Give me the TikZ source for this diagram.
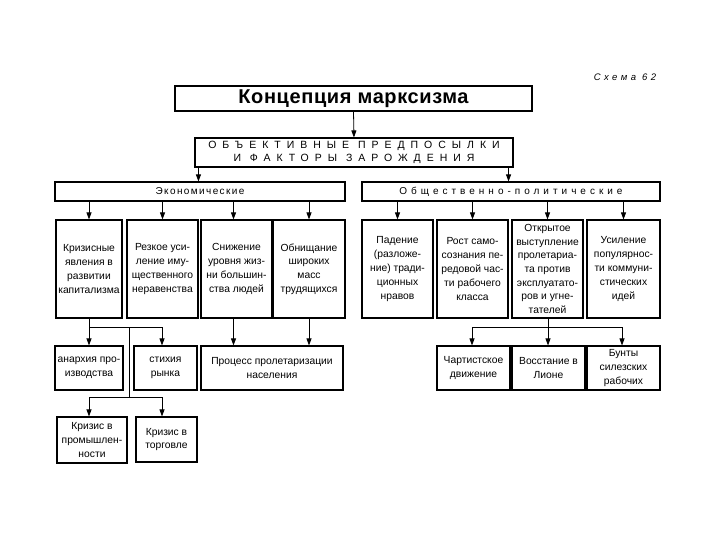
\documentclass[tikz,border=0pt]{standalone}
\usepackage{fontspec}
\setmainfont{Liberation Sans}
\usetikzlibrary{arrows.meta,calc}
\begin{document}
\begin{tikzpicture}[x=1pt,y=-1pt,
  box/.style={draw, line width=1.1pt, inner sep=1pt, align=center,
    font=\fontsize{10.3}{13.8}\selectfont},
  arr/.style={line width=0.8pt, -{Triangle[length=7pt,width=5pt]}},
  ln/.style={line width=0.8pt}]
\useasboundingbox[fill=white] (0,0) rectangle (720,540);

\node[font=\fontsize{9.5}{10}\itshape\addfontfeature{LetterSpace=36}] (schema) at (625,77) {Схема 62};

\node[box, line width=1.3pt, minimum width=357, minimum height=25,
  font=\fontsize{20}{22}\bfseries\selectfont\addfontfeature{LetterSpace=3}] (T) at (353.5,98.5) {Концепция марксизма};
\node[box, minimum width=318, minimum height=29,
  font=\fontsize{10.5}{13}\selectfont\addfontfeature{LetterSpace=57}] (O) at (354,152.5)
  {ОБЪЕКТИВНЫЕ ПРЕДПОСЫЛКИ\\И ФАКТОРЫ ЗАРОЖДЕНИЯ};
\node[box, minimum width=290, minimum height=19,
  font=\fontsize{10}{12}\selectfont\addfontfeature{LetterSpace=14}] (Ec) at (200,191.5) {Экономические};
\node[box, minimum width=298, minimum height=19,
  font=\fontsize{10}{12}\selectfont\addfontfeature{LetterSpace=40}] (Po) at (511,191.5) {Общественно-политические};

\node[box, minimum width=66, minimum height=98] (e1) at (89,269) {Кризисные\\явления в\\развитии\\капитализма};
\node[box, minimum width=71, minimum height=98] (e2) at (162.5,269) {Резкое уси-\\ление иму-\\щественного\\неравенства};
\node[box, minimum width=71, minimum height=98] (e3) at (236.5,269) {Снижение\\уровня жиз-\\ни большин-\\ства людей};
\node[box, minimum width=72, minimum height=98] (e4) at (309,269) {Обнищание\\широких\\масс\\трудящихся};

\node[box, minimum width=71, minimum height=98] (p1) at (397.5,269) {Падение\\(разложе-\\ние) тради-\\ционных\\нравов};
\node[box, minimum width=71, minimum height=98] (p2) at (472.5,269) {Рост само-\\сознания пе-\\редовой час-\\ти рабочего\\класса};
\node[box, minimum width=71, minimum height=98, font=\fontsize{10.3}{13.6}\selectfont] (p3) at (547.5,269) {Открытое\\выступление\\пролетариа-\\та против\\эксплуатато-\\ров и угне-\\тателей};
\node[box, minimum width=73, minimum height=98] (p4) at (623.5,269) {Усиление\\популярнос-\\ти коммуни-\\стических\\идей};

\node[box, minimum width=68, minimum height=44] (a1) at (89,368) {анархия про-\\изводства};
\node[box, minimum width=63, minimum height=44] (a2) at (165.5,368) {стихия\\рынка};
\node[box, minimum width=142, minimum height=44] (a3) at (272,368) {Процесс пролетаризации\\населения};
\node[box, minimum width=70, minimum height=46] (c1) at (92,440) {Кризис в\\промышлен-\\ности};
\node[box, minimum width=61, minimum height=45] (c2) at (166.5,439.5) {Кризис в\\торговле};

\node[box, minimum width=73, minimum height=44] (b1) at (473.5,368) {Чартистское\\движение};
\node[box, minimum width=73, minimum height=44] (b2) at (548.5,368) {Восстание в\\Лионе};
\node[box, minimum width=73, minimum height=44] (b3) at (623.5,368) {Бунты\\силезских\\рабочих};

% connectors
\draw[arr] (T.south) -- (O.north);
\draw[arr] ([xshift=4pt]O.south west) -- ([xshift=4pt]O.south west |- Ec.north);
\draw[arr] ([xshift=-5pt]O.south east) -- ([xshift=-5pt]O.south east |- Po.north);

\foreach \n in {e1,e2,e4} \draw[arr] (Ec.south -| \n.north) -- (\n.north);
\draw[arr] ([xshift=-3pt]e3.north |- Ec.south) -- ([xshift=-3pt]e3.north);
\foreach \n in {p1,p2,p3,p4} \draw[arr] (Po.south -| \n.north) -- (\n.north);

\coordinate (j1) at (89,327);
\coordinate (j2) at (129,327);
\coordinate (j3) at (129,397);
\draw[arr] (e1.south) -- (a1.north);
\draw[arr] (j1) -| ([xshift=-3.5pt]a2.north);
\draw[ln] (j2) -- (j3);
\draw[arr] (j3) -| (c1.north -| j1);
\draw[arr] (j3) -| ([xshift=-4.5pt]c2.north);

\draw[arr] ([xshift=-3pt]e3.south) -- ([xshift=-3pt]e3.south |- a3.north);
\draw[arr] (e4.south) -- (e4.south |- a3.north);

\coordinate (k1) at (472,327);
\draw[arr] ([xshift=0.5pt]p3.south) -- ([xshift=0.5pt]p3.south |- b2.north);
\draw[arr] (k1 -| p3.south) -| ([xshift=-1.5pt]b1.north);
\draw[arr] (k1 -| p3.south) -| ([xshift=-1.5pt]b3.north);
\end{tikzpicture}
\end{document}
